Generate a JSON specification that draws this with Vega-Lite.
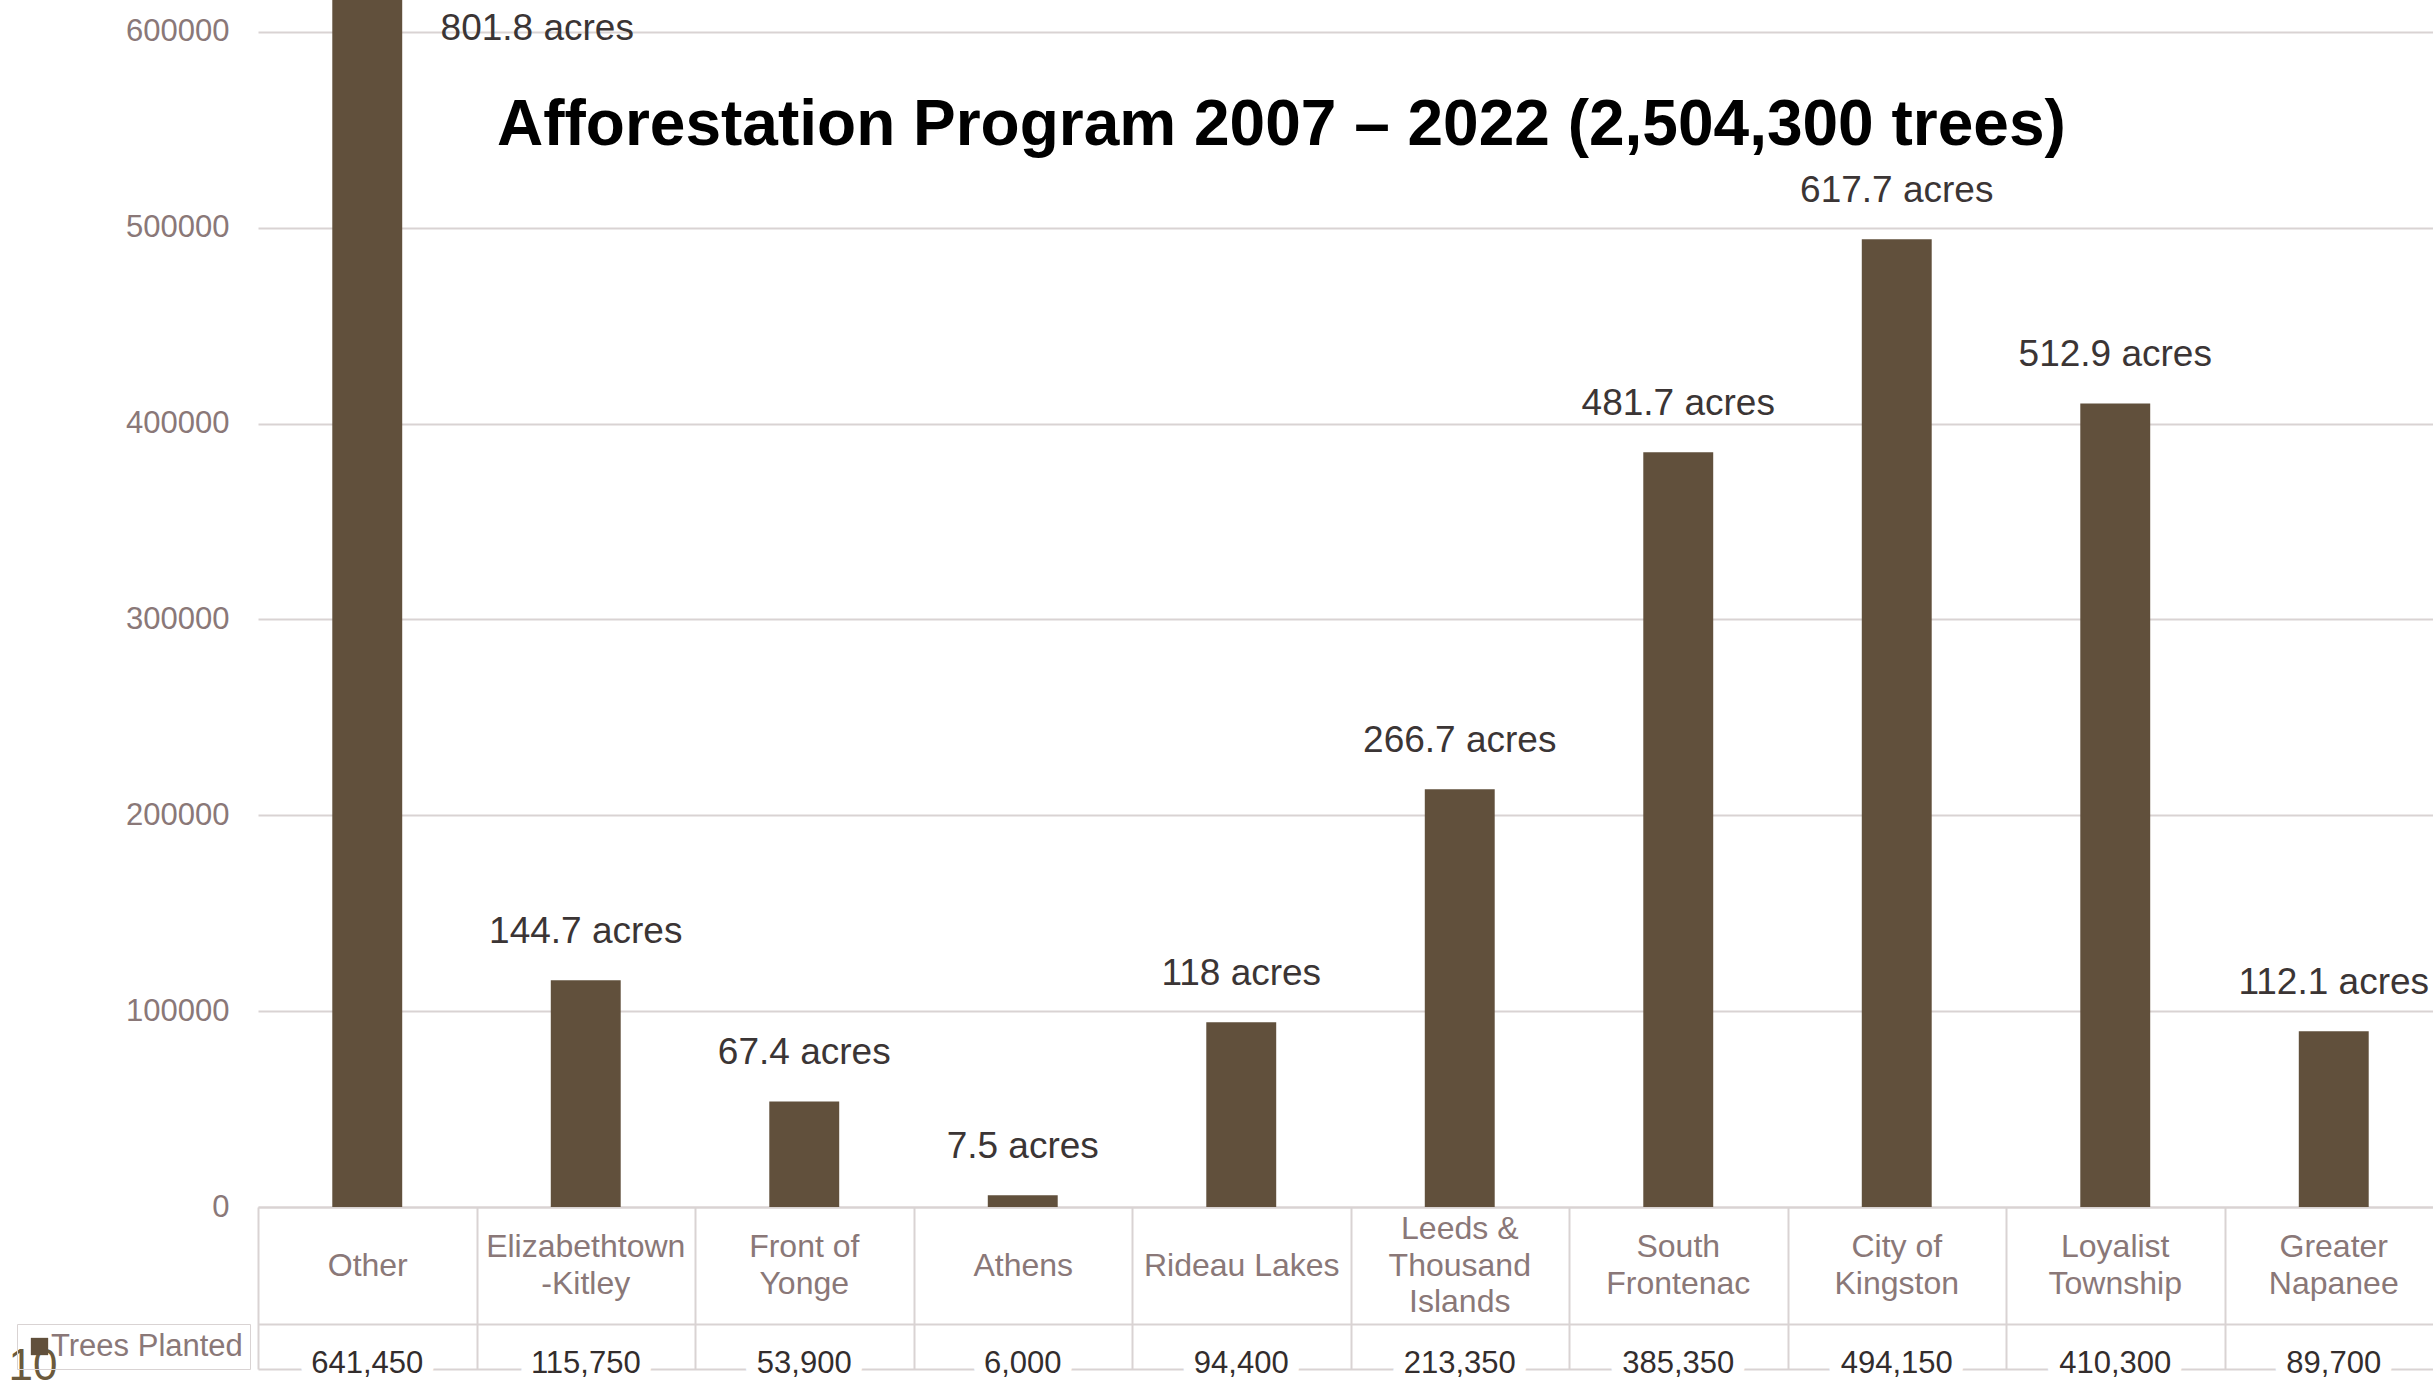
{
  "$schema": "https://vega.github.io/schema/vega-lite/v6.json",
  "autosize": {"type": "none"},
  "width": 2185,
  "height": 1207,
  "padding": {"left": 258, "top": 0, "right": -10, "bottom": 176},
  "background": "white",
  "config": {"font": "Liberation Sans", "view": {"stroke": null}},
  "title": {
    "text": "Afforestation Program 2007 – 2022 (2,504,300 trees)",
    "anchor": "start",
    "frame": "group",
    "dx": 239,
    "offset": -209,
    "baseline": "alphabetic",
    "fontSize": 64,
    "fontWeight": "bold",
    "color": "#000000",
    "font": "Liberation Sans"
  },
  "data": {
    "values": [
      {"category": "Other", "trees": 641450, "acres": 801.8, "acresLabel": "801.8 acres"},
      {"category": "Elizabethtown\n-Kitley", "trees": 115750, "acres": 144.7, "acresLabel": "144.7 acres"},
      {"category": "Front of\nYonge", "trees": 53900, "acres": 67.4, "acresLabel": "67.4 acres"},
      {"category": "Athens", "trees": 6000, "acres": 7.5, "acresLabel": "7.5 acres"},
      {"category": "Rideau Lakes", "trees": 94400, "acres": 118, "acresLabel": "118 acres"},
      {"category": "Leeds &\nThousand\nIslands", "trees": 213350, "acres": 266.7, "acresLabel": "266.7 acres"},
      {"category": "South\nFrontenac", "trees": 385350, "acres": 481.7, "acresLabel": "481.7 acres"},
      {"category": "City of\nKingston", "trees": 494150, "acres": 617.7, "acresLabel": "617.7 acres"},
      {"category": "Loyalist\nTownship", "trees": 410300, "acres": 512.9, "acresLabel": "512.9 acres"},
      {"category": "Greater\nNapanee", "trees": 89700, "acres": 112.1, "acresLabel": "112.1 acres"}
    ]
  },
  "resolve": {"axis": {"x": "independent"}},
  "layer": [
    {
      "mark": {"type": "bar", "width": {"band": 0.32}},
      "encoding": {
        "x": {
          "field": "category", "type": "nominal", "sort": null,
          "scale": {"paddingInner": 0, "paddingOuter": 0},
          "axis": {
            "orient": "bottom", "title": null, "grid": false,
            "domain": true, "domainColor": "#d9d3d3", "domainWidth": 2,
            "ticks": true, "tickBand": "extent", "tickSize": 162, "tickColor": "#d9d3d3", "tickWidth": 2,
            "labels": true, "labelAngle": 0, "labelAlign": "center", "labelBaseline": "middle",
            "labelPadding": -104, "labelFontSize": 32, "labelColor": "#8a7878", "labelLineHeight": 36.5,
            "labelLimit": 400, "labelOverlap": false, "labelFont": "Liberation Sans",
            "labelExpr": "length(split(datum.label, '\\n')) == 1 ? datum.label : ''"
          }
        },
        "y": {
          "field": "trees", "type": "quantitative",
          "scale": {"domain": [0, 616340], "nice": false, "clamp": true},
          "axis": {
            "title": null, "values": [0, 100000, 200000, 300000, 400000, 500000, 600000],
            "format": "d", "domain": false, "ticks": false, "labelPadding": 29,
            "labelFontSize": 31, "labelColor": "#8a7878", "labelFont": "Liberation Sans",
            "grid": true, "gridColor": "#d9d3d3", "gridWidth": 2
          }
        },
        "color": {
          "datum": "Trees Planted", "type": "nominal",
          "scale": {"range": ["#61503c"]},
          "legend": {
            "orient": "none", "legendX": -241, "legendY": 1324, "title": null,
            "symbolType": "square", "symbolSize": 300, "symbolStrokeWidth": 0,
            "labelFontSize": 31, "labelColor": "#8a7878", "labelLimit": 400, "labelFont": "Liberation Sans",
            "labelOffset": -4, "symbolOffset": 0, "padding": 7, "strokeColor": "#d9d3d3"
          }
        }
      }
    },
    {
      "mark": {"type": "text", "dy": 157, "fontSize": 31, "fill": "white", "stroke": "white", "strokeWidth": 24, "strokeJoin": "round", "baseline": "middle"},
      "encoding": {
        "x": {
          "field": "category", "type": "nominal", "sort": null,
          "axis": {
            "orient": "bottom", "offset": 117, "title": null, "grid": false,
            "domain": true, "domainColor": "#d9d3d3", "domainWidth": 2,
            "ticks": false, "tickSize": 0,
            "labels": true, "labelAngle": 0, "labelAlign": "center", "labelBaseline": "middle",
            "labelPadding": -77.25, "labelFontSize": 32, "labelColor": "#8a7878", "labelLineHeight": 36.5,
            "labelLimit": 400, "labelOverlap": false, "labelFont": "Liberation Sans",
            "labelExpr": "length(split(datum.label, '\\n')) == 2 ? split(datum.label, '\\n') : ''"
          }
        },
        "y": {
          "datum": 0, "type": "quantitative",
          "axis": {
            "title": null, "values": [0, 100000, 200000, 300000, 400000, 500000, 600000],
            "format": "d", "domain": false, "ticks": false, "labelPadding": 29,
            "labelFontSize": 31, "labelColor": "#8a7878", "labelFont": "Liberation Sans",
            "grid": true, "gridColor": "#d9d3d3", "gridWidth": 2
          }
        },
        "text": {"field": "trees", "type": "quantitative", "format": ","}
      }
    },
    {
      "mark": {"type": "text", "dy": 157, "fontSize": 31, "fill": "#332d2d", "baseline": "middle"},
      "encoding": {
        "x": {
          "field": "category", "type": "nominal", "sort": null,
          "axis": {
            "orient": "bottom", "offset": 162, "grid": false,
            "domain": true, "domainColor": "#d9d3d3", "domainWidth": 2,
            "ticks": false, "tickSize": 0,
            "labels": true, "labelAngle": 0, "labelAlign": "center", "labelBaseline": "middle",
            "labelPadding": -140.5, "labelFontSize": 32, "labelColor": "#8a7878", "labelLineHeight": 36.5,
            "labelLimit": 400, "labelOverlap": false, "labelFont": "Liberation Sans",
            "labelExpr": "length(split(datum.label, '\\n')) == 3 ? split(datum.label, '\\n') : ''",
            "title": "10", "titleX": -250, "titleY": 10, "titleAlign": "left", "titleBaseline": "alphabetic",
            "titleFontSize": 44, "titleFontWeight": "normal", "titleColor": "#6b5a3c", "titleFont": "Liberation Sans"
          }
        },
        "y": {
          "datum": 0, "type": "quantitative",
          "axis": {
            "title": null, "values": [0, 100000, 200000, 300000, 400000, 500000, 600000],
            "format": "d", "domain": false, "ticks": false, "labelPadding": 29,
            "labelFontSize": 31, "labelColor": "#8a7878", "labelFont": "Liberation Sans",
            "grid": true, "gridColor": "#d9d3d3", "gridWidth": 2
          }
        },
        "text": {"field": "trees", "type": "quantitative", "format": ","}
      }
    },
    {
      "transform": [{"filter": "datum.category != 'Other'"}],
      "mark": {"type": "text", "dy": -48, "fontSize": 37, "fill": "#3b3535", "baseline": "middle"},
      "encoding": {
        "x": {"field": "category", "type": "nominal", "sort": null, "axis": null},
        "y": {
          "field": "trees", "type": "quantitative",
          "axis": {
            "title": null, "values": [0, 100000, 200000, 300000, 400000, 500000, 600000],
            "format": "d", "domain": false, "ticks": false, "labelPadding": 29,
            "labelFontSize": 31, "labelColor": "#8a7878", "labelFont": "Liberation Sans",
            "grid": true, "gridColor": "#d9d3d3", "gridWidth": 2
          }
        },
        "text": {"field": "acresLabel", "type": "nominal"}
      }
    },
    {
      "transform": [{"filter": "datum.category == 'Other'"}],
      "mark": {"type": "text", "dx": 170, "dy": 29, "fontSize": 37, "fill": "#3b3535", "baseline": "middle"},
      "encoding": {
        "x": {"field": "category", "type": "nominal", "sort": null, "axis": null},
        "y": {
          "field": "trees", "type": "quantitative",
          "axis": {
            "title": null, "values": [0, 100000, 200000, 300000, 400000, 500000, 600000],
            "format": "d", "domain": false, "ticks": false, "labelPadding": 29,
            "labelFontSize": 31, "labelColor": "#8a7878", "labelFont": "Liberation Sans",
            "grid": true, "gridColor": "#d9d3d3", "gridWidth": 2
          }
        },
        "text": {"field": "acresLabel", "type": "nominal"}
      }
    }
  ]
}
